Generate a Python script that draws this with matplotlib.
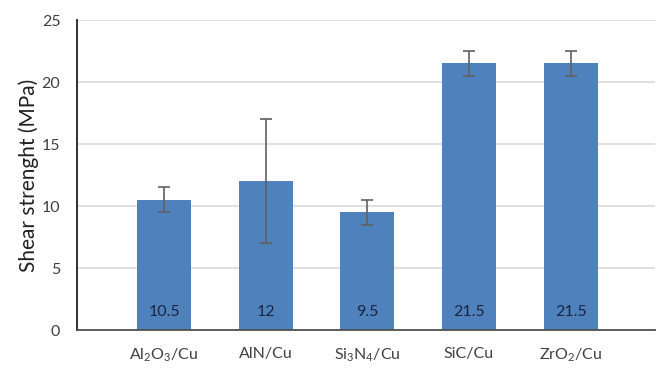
import numpy as np
import matplotlib
matplotlib.use("Agg")
import matplotlib.pyplot as plt

plt.rcParams['font.family'] = ['Lato', 'DejaVu Sans']
plt.rcParams['mathtext.fontset'] = 'custom'
plt.rcParams['mathtext.rm'] = 'Lato'
plt.rcParams['mathtext.it'] = 'Lato'

# Datos
labels = ['Al$_2$O$_3$/Cu', 'AlN/Cu', 'Si$_3$N$_4$/Cu', 'SiC/Cu', 'ZrO$_2$/Cu']
shear = [10.5, 12, 9.5, 21.5, 21.5]
err = [1, 5, 1, 1, 1]
value_text = ['10.5', '12', '9.5', '21.5', '21.5']

fig = plt.figure(figsize=(6.68, 3.74), dpi=100)
ax = fig.add_axes([0.1153, 0.1176, 0.8652, 0.8289])

x = np.arange(len(labels))
ax.bar(x, shear, width=0.53, color='#4f81bd', zorder=2,
       yerr=err, error_kw=dict(ecolor='#606060', elinewidth=1.2, capsize=4, capthick=1.2, zorder=3))

# etiquetas de valor dentro de las barras
for xi, t in zip(x, value_text):
    ax.text(xi, 1.45, t, ha='center', va='center', fontsize=11.5, color='#1a2440', zorder=4)

ax.set_xlim(-0.856, 4.83)
ax.set_ylim(0, 25)
ax.set_yticks(np.arange(0, 26, 5))
ax.set_xticks(x)
ax.set_xticklabels(labels)
ax.yaxis.grid(True, color='#d9d9d9', linewidth=1.2, zorder=0)
ax.set_axisbelow(True)
ax.tick_params(axis='both', length=0, labelsize=11.5, colors='#404040')
ax.tick_params(axis='x', pad=12)
ax.tick_params(axis='y', pad=12)
ax.spines['top'].set_visible(False)
ax.spines['right'].set_visible(False)
ax.spines['left'].set_color('#202020')
ax.spines['left'].set_linewidth(1.3)
ax.spines['bottom'].set_color('#505050')
ax.spines['bottom'].set_linewidth(1.3)
ax.set_ylabel('Shear strenght (MPa)', fontsize=15, color='#202020', labelpad=2)

fig.savefig('out.png', dpi=100)
